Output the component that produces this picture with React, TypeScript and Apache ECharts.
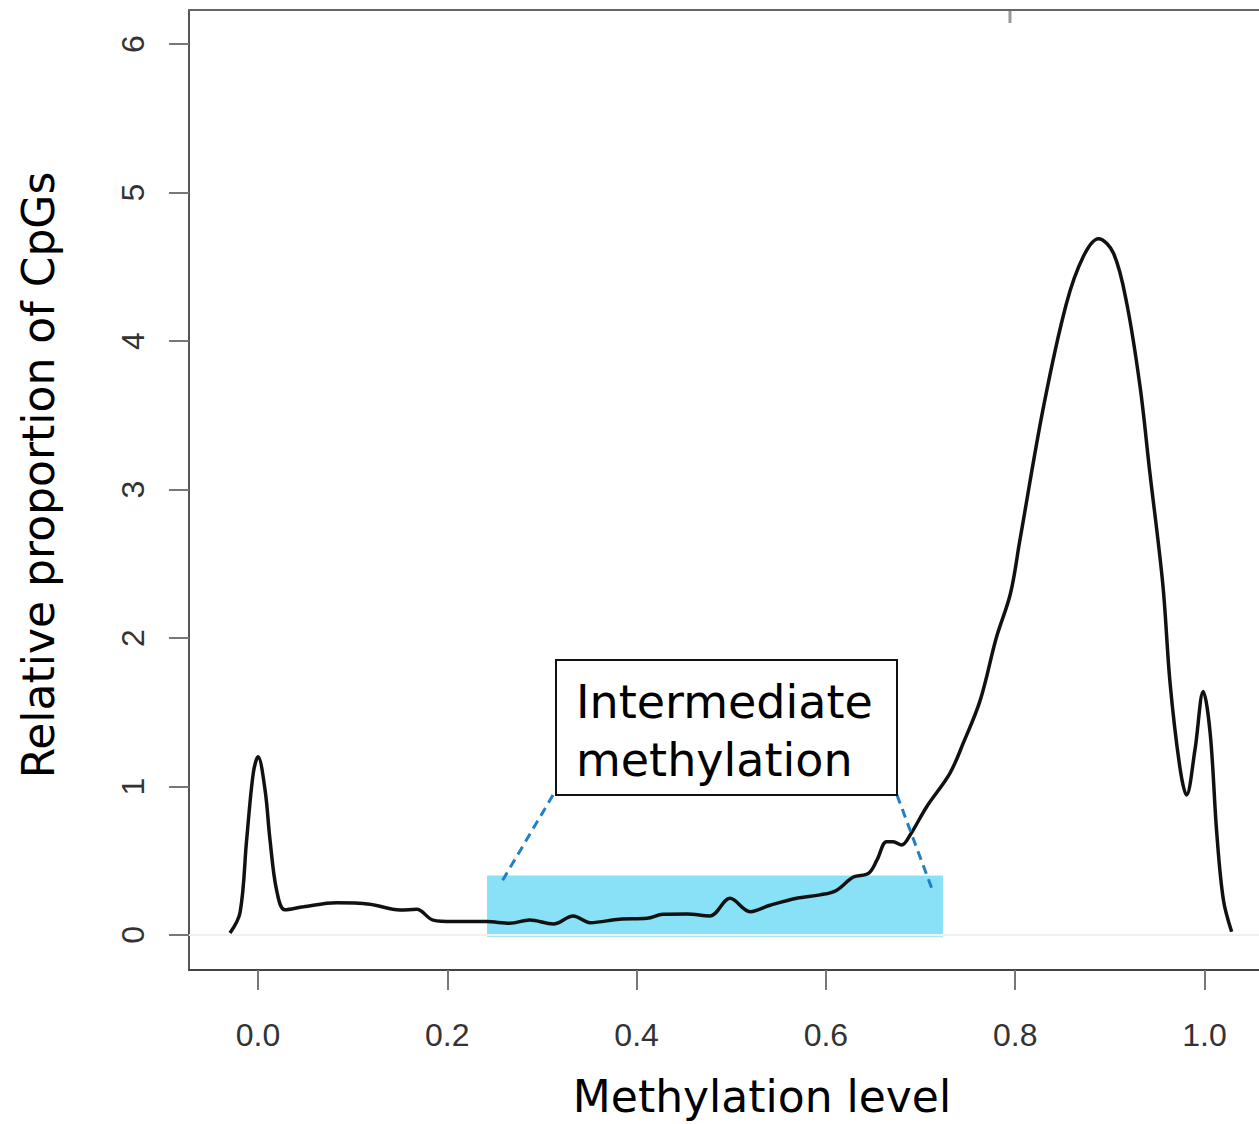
import React, { useEffect, useRef } from "react";
import * as echarts from "echarts";

// Density curve of CpG methylation levels (x: methylation level, y: relative proportion)
const curveX = [
  -0.0296, -0.019, -0.012, -0.005, 0.0, 0.0074, 0.0127, 0.0197, 0.0285, 0.048,
  0.083, 0.118, 0.15, 0.1677, 0.185, 0.206, 0.2416, 0.266, 0.287, 0.312,
  0.333, 0.351, 0.382, 0.411, 0.428, 0.453, 0.4776, 0.4987, 0.52, 0.541,
  0.569, 0.594, 0.611, 0.629, 0.645, 0.654, 0.664, 0.671, 0.68, 0.689,
  0.7065, 0.731, 0.745, 0.763, 0.78, 0.795, 0.805, 0.83, 0.854, 0.872,
  0.888, 0.904, 0.918, 0.932, 0.942, 0.956, 0.9636, 0.974, 0.981, 0.99,
  0.9987, 1.006, 1.013, 1.02, 1.0287,
];
const curveY = [
  0.013, 0.15, 0.64, 1.09, 1.2, 0.98, 0.64, 0.3, 0.17, 0.19,
  0.217, 0.207, 0.168, 0.173, 0.1, 0.09, 0.09, 0.079, 0.1, 0.074,
  0.128, 0.083, 0.106, 0.112, 0.139, 0.141, 0.128, 0.247, 0.157, 0.2,
  0.247, 0.27, 0.3, 0.39, 0.415, 0.505, 0.628, 0.628, 0.606, 0.673,
  0.864, 1.089, 1.29, 1.58, 2.0, 2.3, 2.66, 3.56, 4.25, 4.57,
  4.69, 4.59, 4.25, 3.69, 3.13, 2.36, 1.7, 1.13, 0.943, 1.25,
  1.64, 1.36, 0.685, 0.236, 0.022,
];

const xTicks = [0, 0.2, 0.4, 0.6, 0.8, 1.0];
const yTicks = [0, 1, 2, 3, 4, 5, 6];

// Highlighted "intermediate methylation" band
const bandX = [0.242, 0.7237];
const bandY = [-0.012, 0.4];

const xTitle = "Methylation level";
const yTitle = "Relative proportion of CpGs";
const boxLines = ["Intermediate", "methylation"];

const FONT = "'DejaVu Sans', 'Noto Sans', sans-serif";
const X_MIN = -0.0729;
const X_MAX = 1.0576;

export default function App() {
  const ref = useRef<HTMLDivElement>(null);

  useEffect(() => {
    if (!ref.current) return;
    const chart = echarts.init(ref.current, undefined, { renderer: "svg" });
    const data = curveX.map((x, i) => [x, curveY[i]]);
    chart.setOption({
      animation: false,
      backgroundColor: "#ffffff",
      grid: {
        left: 189,
        top: 10,
        right: 0,
        bottom: 154,
        show: false,
      },
      xAxis: [
        {
          type: "value",
          min: X_MIN,
          max: X_MAX,
          splitLine: { show: false },
          axisLine: { show: true, onZero: false, lineStyle: { color: "#444", width: 2 } },
          axisTick: {
            show: true,
            length: 20,
            customValues: xTicks,
            lineStyle: { color: "#777", width: 2 },
          },
          axisLabel: {
            customValues: xTicks,
            margin: 49,
            fontSize: 32,
            color: "#333",
            fontFamily: "'Liberation Sans', Arial, sans-serif",
            formatter: (v: number) => v.toFixed(1),
          },
        },
        {
          type: "value",
          position: "top",
          min: X_MIN,
          max: X_MAX,
          splitLine: { show: false },
          axisLine: { show: true, onZero: false, lineStyle: { color: "#666", width: 2 } },
          axisTick: { show: false },
          axisLabel: { show: false },
        },
      ],
      yAxis: {
        type: "value",
        min: -0.236,
        max: 6.23,
        splitLine: { show: false },
        axisLine: { show: true, onZero: false, lineStyle: { color: "#555", width: 2 } },
        axisTick: {
          show: true,
          length: 20,
          customValues: yTicks,
          lineStyle: { color: "#777", width: 2 },
        },
        axisLabel: {
          customValues: yTicks,
          rotate: 90,
          margin: 40,
          fontSize: 32,
          color: "#333",
          fontFamily: "'Liberation Sans', Arial, sans-serif",
          formatter: (v: number) => String(v),
        },
      },
      series: [
        {
          type: "line",
          data,
          xAxisIndex: 0,
          smooth: 0.35,
          showSymbol: false,
          symbol: "none",
          lineStyle: { color: "#111", width: 3.5 },
          z: 2,
          markLine: {
            silent: true,
            symbol: "none",
            label: { show: false },
            lineStyle: { color: "#f3f0ea", width: 2, type: "solid" },
            data: [{ yAxis: 0 }],
            z: 1,
          },
        },
        {
          type: "line",
          data: [],
          xAxisIndex: 0,
          z: 5,
          markArea: {
            silent: true,
            itemStyle: { color: "rgba(40,200,240,0.55)" },
            data: [[{ xAxis: bandX[0], yAxis: bandY[0] }, { xAxis: bandX[1], yAxis: bandY[1] }]],
          },
        },
      ],
      graphic: [
        {
          type: "line",
          shape: { x1: 1010, y1: 10, x2: 1010, y2: 23 },
          style: { stroke: "#999", lineWidth: 3 },
        },
        {
          type: "rect",
          shape: { x: 556, y: 660, width: 341, height: 135 },
          style: { fill: "#fff", stroke: "#111", lineWidth: 2 },
          z: 10,
        },
        {
          type: "text",
          x: 576,
          y: 731,
          z: 11,
          style: {
            text: boxLines.join("\n"),
            font: `46px ${FONT}`,
            lineHeight: 58,
            fill: "#000",
            verticalAlign: "middle",
          },
        },
        {
          type: "line",
          z: 9,
          shape: { x1: 553, y1: 795, x2: 501, y2: 883 },
          style: { stroke: "#1f80c8", lineWidth: 3, lineDash: [9, 6] },
        },
        {
          type: "line",
          z: 9,
          shape: { x1: 897, y1: 795, x2: 932, y2: 889 },
          style: { stroke: "#1f80c8", lineWidth: 3, lineDash: [9, 6] },
        },
        {
          type: "text",
          x: 762,
          y: 1096,
          style: {
            text: xTitle,
            font: `44px ${FONT}`,
            fill: "#000",
            align: "center",
            verticalAlign: "middle",
          },
        },
        {
          type: "text",
          x: 38,
          y: 475,
          rotation: Math.PI / 2,
          style: {
            text: yTitle,
            font: `44px ${FONT}`,
            fill: "#000",
            align: "center",
            verticalAlign: "middle",
          },
        },
      ],
    });
    return () => chart.dispose();
  }, []);

  return (
    <div
      ref={ref}
      style={{ position: "fixed", left: 0, top: 0, width: 1259, height: 1124, background: "#fff" }}
    />
  );
}
